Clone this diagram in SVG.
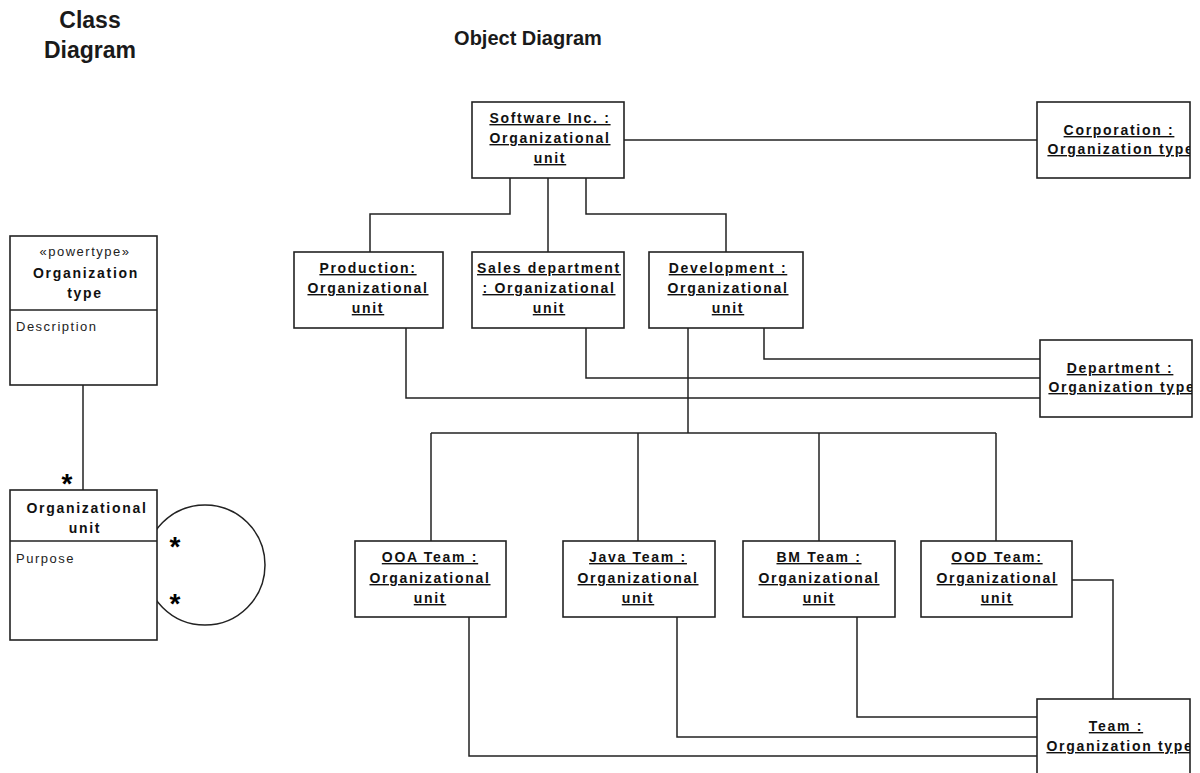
<svg xmlns="http://www.w3.org/2000/svg" width="1200" height="773" viewBox="0 0 1200 773">
<style>
.bx{fill:#fff;stroke:#222;stroke-width:1.6}
.ln{fill:none;stroke:#222;stroke-width:1.5}
.t{font-family:"Liberation Sans",Arial,sans-serif;font-size:14px;font-weight:bold;fill:#111;text-anchor:middle;letter-spacing:1.7px}
.u{text-decoration:underline}
.a{font-family:"Liberation Sans",Arial,sans-serif;font-size:13px;fill:#222;letter-spacing:1.5px}
.h{font-family:"Liberation Sans",Arial,sans-serif;font-weight:bold;fill:#1a1a1a;text-anchor:middle}
.star{font-family:"Liberation Sans",Arial,sans-serif;font-size:28px;font-weight:bold;fill:#000;text-anchor:middle}
</style>
<defs>
<clipPath id="cCorp"><rect x="1037" y="102" width="153" height="76"/></clipPath>
<clipPath id="cDept"><rect x="1040" y="340" width="152" height="77"/></clipPath>
<clipPath id="cTeam"><rect x="1037" y="699" width="153" height="80"/></clipPath>
</defs>
<rect width="1200" height="773" fill="#fff"/>
<text class="h" x="90" y="28" font-size="23">Class</text>
<text class="h" x="90" y="58" font-size="23">Diagram</text>
<text class="h" x="528" y="45" font-size="20">Object Diagram</text>

<g id="connectors">
<line class="ln" x1="83" y1="385" x2="83" y2="490"/>
<circle class="ln" cx="205" cy="565" r="60" stroke-width="1.2"/>
<line class="ln" x1="624" y1="140" x2="1037" y2="140"/>
<polyline class="ln" points="510,178 510,214 370,214 370,252"/>
<line class="ln" x1="548" y1="178" x2="548" y2="252"/>
<polyline class="ln" points="586,178 586,214 726,214 726,252"/>
<polyline class="ln" points="406,328 406,398 1040,398"/>
<polyline class="ln" points="586,328 586,378 1040,378"/>
<polyline class="ln" points="764,328 764,359 1040,359"/>
<line class="ln" x1="688" y1="328" x2="688" y2="433"/>
<line class="ln" x1="431" y1="433" x2="996" y2="433"/>
<line class="ln" x1="431" y1="433" x2="431" y2="541"/>
<line class="ln" x1="638" y1="433" x2="638" y2="541"/>
<line class="ln" x1="819" y1="433" x2="819" y2="541"/>
<line class="ln" x1="996" y1="433" x2="996" y2="541"/>
<polyline class="ln" points="1072,580 1113,580 1113,699"/>
<polyline class="ln" points="469,617 469,756 1037,756"/>
<polyline class="ln" points="677,617 677,737 1037,737"/>
<polyline class="ln" points="857,617 857,717 1037,717"/>
</g>

<g id="class-organization-type">
<rect class="bx" x="10" y="236" width="147" height="149"/>
<line class="ln" x1="10" y1="310" x2="157" y2="310"/>
<text class="a" x="85" y="256" text-anchor="middle">«powertype»</text>
<text class="t" x="86" y="278">Organization</text>
<text class="t" x="85" y="298">type</text>
<text class="a" x="16" y="331">Description</text>
</g>

<g id="class-organizational-unit">
<rect class="bx" x="10" y="490" width="147" height="150"/>
<line class="ln" x1="10" y1="541" x2="157" y2="541"/>
<text class="t" x="87" y="513">Organizational</text>
<text class="t" x="85" y="533">unit</text>
<text class="a" x="16" y="563">Purpose</text>
</g>
<g id="multiplicities">
<text class="star" x="67" y="493" font-size="26">*</text>
<text class="star" x="175" y="556">*</text>
<text class="star" x="175" y="613">*</text>
</g>

<g id="software-inc">
<rect class="bx" x="472" y="102" width="152" height="76"/>
<text class="t u" x="550" y="123">Software Inc. :</text>
<text class="t u" x="550" y="143">Organizational</text>
<text class="t u" x="550" y="163">unit</text>
</g>
<g id="corporation">
<rect class="bx" x="1037" y="102" width="153" height="76"/>
<g clip-path="url(#cCorp)">
<text class="t u" x="1119" y="135">Corporation :</text>
<text class="t u" x="1121" y="154">Organization type</text>
</g>
</g>
<g id="production">
<rect class="bx" x="294" y="252" width="149" height="76"/>
<text class="t u" x="368" y="273">Production:</text>
<text class="t u" x="368" y="293">Organizational</text>
<text class="t u" x="368" y="313">unit</text>
</g>
<g id="sales-department">
<rect class="bx" x="472" y="252" width="152" height="76"/>
<text class="t u" x="549" y="273">Sales department</text>
<text class="t u" x="549" y="293">: Organizational</text>
<text class="t u" x="549" y="313">unit</text>
</g>
<g id="development">
<rect class="bx" x="649" y="252" width="154" height="76"/>
<text class="t u" x="728" y="273">Development :</text>
<text class="t u" x="728" y="293">Organizational</text>
<text class="t u" x="728" y="313">unit</text>
</g>
<g id="department">
<rect class="bx" x="1040" y="340" width="152" height="77"/>
<g clip-path="url(#cDept)">
<text class="t u" x="1120" y="373">Department :</text>
<text class="t u" x="1122" y="392">Organization type</text>
</g>
</g>
<g id="ooa-team">
<rect class="bx" x="355" y="541" width="151" height="76"/>
<text class="t u" x="430" y="562">OOA Team :</text>
<text class="t u" x="430" y="583">Organizational</text>
<text class="t u" x="430" y="603">unit</text>
</g>
<g id="java-team">
<rect class="bx" x="563" y="541" width="152" height="76"/>
<text class="t u" x="638" y="562">Java Team :</text>
<text class="t u" x="638" y="583">Organizational</text>
<text class="t u" x="638" y="603">unit</text>
</g>
<g id="bm-team">
<rect class="bx" x="743" y="541" width="152" height="76"/>
<text class="t u" x="819" y="562">BM Team :</text>
<text class="t u" x="819" y="583">Organizational</text>
<text class="t u" x="819" y="603">unit</text>
</g>
<g id="ood-team">
<rect class="bx" x="921" y="541" width="151" height="76"/>
<text class="t u" x="997" y="562">OOD Team:</text>
<text class="t u" x="997" y="583">Organizational</text>
<text class="t u" x="997" y="603">unit</text>
</g>
<g id="team">
<rect class="bx" x="1037" y="699" width="153" height="90"/>
<g clip-path="url(#cTeam)">
<text class="t u" x="1116" y="731">Team :</text>
<text class="t u" x="1120" y="751">Organization type</text>
</g>
</g>
</svg>
